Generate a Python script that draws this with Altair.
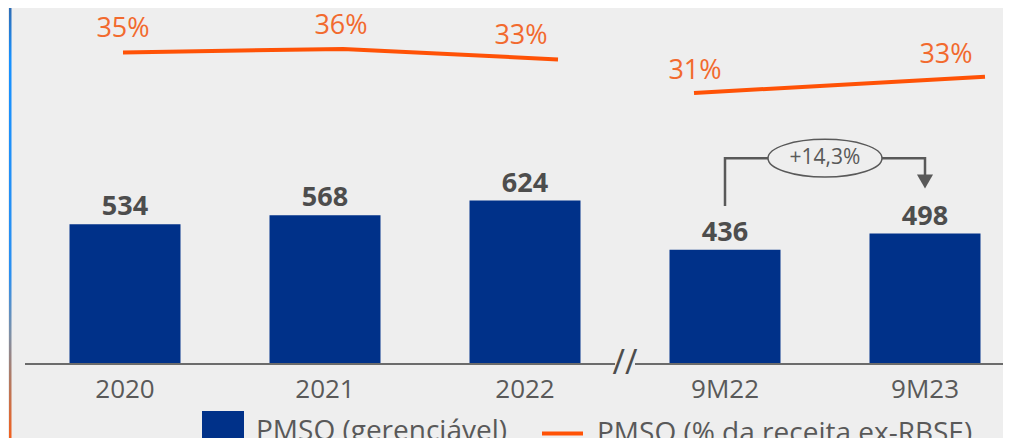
import altair as alt
import pandas as pd

# ---------------- data ----------------
categories = ["2020", "2021", "2022", "9M22", "9M23"]
bar_pos = [0, 1, 2, 3, 4]
pmso_values = [534, 568, 624, 436, 498]

annual_pct = [35, 36, 33]
annual_pct_x = [-0.01, 1.09, 2.165]
annual_label_x = [-0.01, 1.08, 1.98]

nine_pct = [31, 33]
nine_pct_x = [2.845, 4.30]
nine_label_x = [2.85, 4.105]

growth_label = "+14,3%"
bracket_x = [3, 3, 4, 4]
bracket_y = [603, 786, 786, 715]
ellipse_xy = (3.5, 786)
arrow_xy = (4, 697)

axis_seg_start = [-0.5, 2.55]
axis_seg_end = [2.45, 4.39]
cat_label_v = -130

series_bar = "PMSO (gerenciável)"
series_line = "PMSO (% da receita ex-RBSE)"

# ---------------- style ----------------
FONT = "Open Sans"
BG = "#eeeeee"
NAVY = "#003189"
ORANGE = "#ff5206"
ORANGE_TXT = "#f26a2e"
GREY_TXT = "#595959"

W, H = 995, 430
LEG_Y = 403


def xs():
    return alt.Scale(domain=[-0.585, 4.39], nice=False, zero=False, padding=0)


def ys_bar():
    return alt.Scale(domain=[-282, 1359], nice=False, zero=False, padding=0)


def ys_a():
    return alt.Scale(domain=[-75.2, 47.7], nice=False, zero=False, padding=0)


def ys_b():
    return alt.Scale(domain=[-12.1, 41.6], nice=False, zero=False, padding=0)


def X(field="x:Q"):
    return alt.X(field, scale=xs(), axis=None)


def Y(scale, field="v:Q"):
    return alt.Y(field, scale=scale, axis=None)


# ---------------- frames ----------------
bars_df = pd.DataFrame({"x": bar_pos, "v": pmso_values, "cat": categories,
                        "lv": [cat_label_v] * len(bar_pos),
                        "series": [series_bar] * len(bar_pos)})
seg_a = pd.DataFrame({"x": annual_pct_x, "v": annual_pct, "series": series_line})
seg_a_lbl = pd.DataFrame({"x": annual_label_x, "v": annual_pct,
                          "t": [f"{p}%" for p in annual_pct]})
seg_b = pd.DataFrame({"x": nine_pct_x, "v": nine_pct, "series": series_line})
seg_b_lbl = pd.DataFrame({"x": nine_label_x, "v": nine_pct,
                          "t": [f"{p}%" for p in nine_pct]})
bracket_df = pd.DataFrame({"x": bracket_x, "v": bracket_y, "o": list(range(len(bracket_x)))})
ellipse_df = pd.DataFrame({"x": [ellipse_xy[0]], "v": [ellipse_xy[1]], "t": [growth_label]})
arrow_df = pd.DataFrame({"x": [arrow_xy[0]], "v": [arrow_xy[1]]})
axis_df = pd.DataFrame({"x": axis_seg_start, "x2": axis_seg_end, "v": [0, 0]})
brk_df = pd.DataFrame({"x": [2.5], "v": [0], "t": ["//"]})

# ---------------- marks ----------------
edge = alt.Chart(bars_df.head(1)).mark_rect(
    fill=alt.Gradient(gradient="linear", x1=0, x2=0, y1=0, y2=1, stops=[
        alt.GradientStop(color="#2f6db5", offset=0),
        alt.GradientStop(color="#1791ff", offset=0.12),
        alt.GradientStop(color="#2a8ff0", offset=0.62),
        alt.GradientStop(color="#7e8fa5", offset=0.76),
        alt.GradientStop(color="#b07a64", offset=0.86),
        alt.GradientStop(color="#f2601e", offset=1),
    ])
).encode(x=alt.value(1), x2=alt.value(3.5), y=alt.value(0), y2=alt.value(H))

bars = alt.Chart(bars_df).mark_bar(size=111).encode(
    x=X(),
    y=Y(ys_bar()),
    color=alt.Color("series:N", scale=alt.Scale(domain=[series_bar], range=[NAVY]),
                    legend=alt.Legend(orient="none", legendX=194, legendY=LEG_Y, title=None,
                                      symbolType="square", symbolSize=1764,
                                      symbolStrokeWidth=0, padding=0, labelOffset=12,
                                      labelFont=FONT, labelFontSize=28,
                                      labelColor=GREY_TXT, labelLimit=600)),
)
bar_txt = alt.Chart(bars_df).mark_text(dy=-9, baseline="alphabetic", font=FONT,
                                       fontSize=27, fontWeight="bold",
                                       color="#4d4d4d").encode(
    x=X(), y=Y(ys_bar()), text="v:Q")
cat_txt = alt.Chart(bars_df).mark_text(baseline="alphabetic", font=FONT, fontSize=26,
                                       color=GREY_TXT).encode(
    x=X(), y=Y(ys_bar(), "lv:Q"), text="cat:N")
axis_line = alt.Chart(axis_df).mark_rule(color="#6b6b6b", strokeWidth=2).encode(
    x=X(), x2="x2:Q", y=Y(ys_bar()))
brk = alt.Chart(brk_df).mark_text(font=FONT, fontSize=34, color="#4d4d4d",
                                  baseline="middle").encode(
    x=X(), y=Y(ys_bar()), text="t:N")
bracket = alt.Chart(bracket_df).mark_line(color=GREY_TXT, strokeWidth=2.5).encode(
    x=X(), y=Y(ys_bar()), order="o:Q")
ellipse = alt.Chart(ellipse_df).mark_point(
    shape="M-1,0A1,0.33,0,1,1,1,0A1,0.33,0,1,1,-1,0Z", size=114 * 114,
    filled=True, fill=BG, stroke=GREY_TXT, strokeWidth=1.5, opacity=1).encode(
    x=X(), y=Y(ys_bar()))
ellipse_txt = alt.Chart(ellipse_df).mark_text(font=FONT, fontSize=21, color=GREY_TXT,
                                              baseline="middle").encode(
    x=X(), y=Y(ys_bar()), text="t:N")
arrow = alt.Chart(arrow_df).mark_point(shape="triangle-down", size=260, filled=True,
                                       color=GREY_TXT, opacity=1).encode(
    x=X(), y=Y(ys_bar()))


def stroke_enc():
    return alt.Stroke("series:N", scale=alt.Scale(domain=[series_line], range=[ORANGE]),
                      legend=alt.Legend(orient="none", legendX=532, legendY=LEG_Y, title=None,
                                        symbolType="stroke", symbolSize=1681,
                                        symbolStrokeWidth=4, padding=0, labelOffset=12,
                                        labelFont=FONT, labelFontSize=28,
                                        labelColor=GREY_TXT, labelLimit=600))


line_a = alt.Chart(seg_a).mark_line(strokeWidth=4).encode(
    x=X(), y=Y(ys_a()), stroke=stroke_enc())
txt_a = alt.Chart(seg_a_lbl).mark_text(dy=-15, baseline="alphabetic", font=FONT,
                                       fontSize=27, color=ORANGE_TXT).encode(
    x=X(), y=Y(ys_a()), text="t:N")
line_b = alt.Chart(seg_b).mark_line(strokeWidth=4).encode(
    x=X(), y=Y(ys_b()), stroke=stroke_enc())
txt_b = alt.Chart(seg_b_lbl).mark_text(dy=-14, baseline="alphabetic", font=FONT,
                                       fontSize=27, color=ORANGE_TXT).encode(
    x=X(), y=Y(ys_b()), text="t:N")

chart = alt.layer(
    edge, bars, bar_txt, cat_txt, axis_line, brk, bracket, ellipse, ellipse_txt,
    arrow, line_a, txt_a, line_b, txt_b,
).resolve_scale(y="independent").properties(
    width=W, height=H, padding=0, autosize=alt.AutoSizeParams(type="none"),
    background=BG,
).configure_view(stroke=None)

chart.save("out.html", embed_options={"renderer": "svg", "actions": False})
